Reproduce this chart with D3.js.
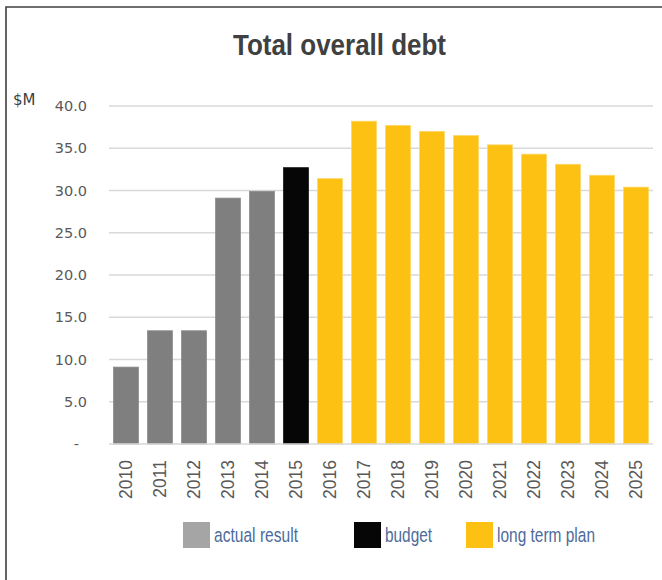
<!DOCTYPE html>
<html>
<head>
<meta charset="utf-8">
<script src="https://cdn.jsdelivr.net/npm/d3@7"></script>
<style>
  html, body { margin: 0; padding: 0; background: #fff; }
  svg { display: block; }
</style>
</head>
<body>
<svg id="chart" width="662" height="580"></svg>
<script>
// Total overall debt, $M, by year
const years = ["2010","2011","2012","2013","2014","2015","2016","2017","2018","2019","2020","2021","2022","2023","2024","2025"];
const debt  = [9.1, 13.4, 13.4, 29.1, 29.9, 32.7, 31.4, 38.2, 37.7, 37.0, 36.5, 35.4, 34.3, 33.1, 31.8, 30.4];
const kinds = ["actual","actual","actual","actual","actual","budget","plan","plan","plan","plan","plan","plan","plan","plan","plan","plan"];
const yTicks = [0, 5, 10, 15, 20, 25, 30, 35, 40];

const seriesKeys   = ["actual", "budget", "plan"];
const seriesLabels = ["actual result", "budget", "long term plan"];
const barColors    = { actual: "#7f7f7f", budget: "#060606", plan: "#fcc112" };
const barEdges     = { actual: "#8a8a8a", budget: "#111111", plan: "#fdd866" };
const swatchColors = { actual: "#a5a5a5", budget: "#060606", plan: "#fcc112" };

const svg = d3.select("#chart");

// outer frame (top and left edges)
svg.append("path")
  .attr("d", "M6,580 V7 H662")
  .attr("fill", "none")
  .attr("stroke", "#404040")
  .attr("stroke-width", 1.6);

// title
svg.append("text")
  .attr("x", 233).attr("y", 55)
  .attr("font-family", "'Liberation Sans', Arial, sans-serif")
  .attr("font-size", 29)
  .attr("font-weight", "bold")
  .attr("textLength", 213)
  .attr("lengthAdjust", "spacingAndGlyphs")
  .attr("fill", "#404040")
  .text("Total overall debt");

const x = d3.scaleBand().domain(years).range([109, 653]).paddingInner(0.27).paddingOuter(0.135);
const y = d3.scaleLinear().domain([0, 40]).range([444, 106]);

// gridlines
svg.append("g")
  .selectAll("line")
  .data(yTicks.filter(d => d > 0))
  .join("line")
  .attr("x1", 109).attr("x2", 653)
  .attr("y1", d => y(d)).attr("y2", d => y(d))
  .attr("stroke", "#d9d9d9")
  .attr("stroke-width", 1.5);

// y axis labels
const yAxis = svg.append("g")
  .attr("transform", "translate(87,0)")
  .call(d3.axisLeft(y).tickValues(yTicks).tickSize(0).tickPadding(0)
    .tickFormat(d => d === 0 ? "-" : d3.format(".1f")(d)));
yAxis.select(".domain").remove();
yAxis.selectAll("text")
  .attr("font-family", "'DejaVu Sans', sans-serif")
  .attr("font-size", 14.5)
  .attr("fill", "#595959")
  .attr("dx", d => d === 0 ? -8 : 0);

// unit label
svg.append("text")
  .attr("x", 13).attr("y", 105)
  .attr("font-family", "'DejaVu Sans', sans-serif")
  .attr("font-size", 15)
  .attr("fill", "#404040")
  .text("$M");

// bars
svg.append("g")
  .selectAll("rect")
  .data(years.map((yr, i) => ({ yr, v: debt[i], k: kinds[i] })))
  .join("rect")
  .attr("x", d => x(d.yr))
  .attr("y", d => y(d.v))
  .attr("width", x.bandwidth())
  .attr("height", d => y(0) - y(d.v))
  .attr("fill", d => barColors[d.k])
  .attr("stroke", d => barEdges[d.k])
  .attr("stroke-width", 0.8);

// baseline
svg.append("line")
  .attr("x1", 109).attr("x2", 653)
  .attr("y1", y(0)).attr("y2", y(0))
  .attr("stroke", "#d9d9d9")
  .attr("stroke-width", 1.5);

// x axis labels (rotated)
const xAxis = svg.append("g")
  .attr("transform", `translate(0,${y(0)})`)
  .call(d3.axisBottom(x).tickSize(0).tickPadding(0));
xAxis.select(".domain").remove();
xAxis.selectAll("text")
  .attr("font-family", "'Liberation Sans', Arial, sans-serif")
  .attr("font-size", 17.5)
  .attr("fill", "#595959")
  .attr("text-anchor", "end")
  .attr("dy", null)
  .attr("y", 0)
  .attr("transform", "translate(6,16) rotate(-90)");

// legend
const legendX = [183, 354, 466];
const legendTextW = [84, 47, 98];
const legend = svg.append("g")
  .selectAll("g")
  .data(seriesKeys)
  .join("g")
  .attr("transform", (d, i) => `translate(${legendX[i]},522)`);
legend.append("rect")
  .attr("width", 27).attr("height", 26)
  .attr("fill", d => swatchColors[d]);
legend.append("text")
  .attr("x", 31).attr("y", 20)
  .attr("font-family", "'Liberation Sans', Arial, sans-serif")
  .attr("font-size", 20.5)
  .attr("textLength", (d, i) => legendTextW[i])
  .attr("lengthAdjust", "spacingAndGlyphs")
  .attr("fill", "#4d6b9b")
  .text((d, i) => seriesLabels[i]);
</script>
</body>
</html>
